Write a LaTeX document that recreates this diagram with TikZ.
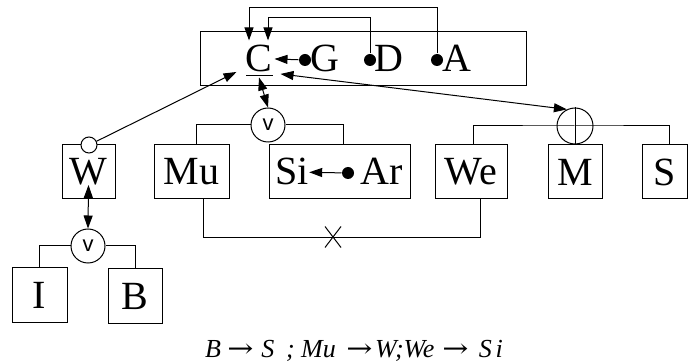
\documentclass[tikz,border=0pt]{standalone}
\usepackage{fontspec}
\setmainfont{Liberation Serif}
\newfontfamily\gatefont{Liberation Sans}
\newfontfamily\arrowfont{DejaVu Serif}
\newcommand{\arr}{\scalebox{1.2}[1]{\upshape\arrowfont →}}
\usepackage{tikz}
\usetikzlibrary{arrows.meta}
\usetikzlibrary{shapes.misc}

\begin{document}
\begin{tikzpicture}[
    x=1pt, y=-1pt,
    >={Triangle[length=13pt,width=9pt]},
    line width=1pt,
    box/.style={draw, inner sep=0pt, minimum height=54pt, font=\fontsize{40}{40}\selectfont},
    letter/.style={inner sep=0pt, font=\fontsize{40}{40}\selectfont},
    gate/.style={circle, draw, fill=white, inner sep=0pt, minimum size=34pt,
        font=\gatefont\fontsize{22}{22}\selectfont},
    dot/.style={circle, fill, inner sep=0pt, minimum size=12pt}
]
\useasboundingbox (0,0) rectangle (688,363);

% Top frame with C, G, D, A
\node[draw, minimum width=326pt, minimum height=54pt] (top) at (363,59) {};
\node[letter, anchor=base, minimum width=30pt, minimum height=36pt] (C) at (259,72) {C};
\node[letter, anchor=base] (G) at (325,72) {G};
\node[letter, anchor=base] (D) at (388.5,72) {D};
\node[letter, anchor=base] (A) at (457,72) {A};
\node[dot] (dG) at (305,60) {};
\node[dot] (dD) at (370,60) {};
\node[dot] (dA) at (437,60) {};

% Underline of C
\draw ([xshift=-13pt,yshift=1.5pt]C.south) -- ([xshift=14pt,yshift=1.5pt]C.south);

% Links into C
\draw[->] (dG) -- (C.east);
\draw[->] (dD) -- ++(0,-42) -| ([xshift=9pt]C.north);
\draw[->] (dA) -- ++(0,-52) -| ([xshift=-10pt]C.north);

% Boxes of the middle row
\node[box, minimum width=53pt] (W) at (88.5,172) {W};
\node[box, minimum width=75pt] (Mu) at (191.5,172) {Mu};
\node[box, minimum width=141pt] (siar) at (339.5,172) {};
\node[letter, anchor=base] (Si) at (292,185) {Si};
\node[letter, anchor=base] (Ar) at (382,185) {Ar};
\node[dot] (dAr) at (348,173) {};
\node[box, minimum width=72pt] (We) at (471,172) {We};
\node[box, minimum width=54pt] (M) at (575,172) {M};
\node[box, minimum width=45pt] (S) at (664.5,172) {S};

% Bottom row
\node[box, minimum width=55pt, minimum height=55pt] (I) at (39.5,295.5) {I};
\node[box, minimum width=54pt, minimum height=55pt] (B) at (135,296) {B};

\draw[->] (dAr) -- (Si);

% Gates
\node[circle, draw, fill=white, inner sep=0pt, minimum size=16pt] (Wo) at (89,145) {};
\node[gate] (V1) at (268,125) {v};
\node[gate] (V2) at (88,246) {v};
\node[circle, draw, inner sep=0pt, minimum size=36pt] (op) at (575,126) {};

% Tree lines
\draw ([xshift=4.5pt]Mu.north) |- (V1.west);
\draw ([xshift=3.5pt]siar.north) |- (V1.east);
\draw (I.north) |- (V2.west);
\draw (B.north) |- (V2.east);
\draw ([xshift=2pt]We.north) |- (op.center) -| ([xshift=4.5pt]S.north);
\draw (op.north) -- (M.north);

% Arrows between levels
\draw[->] (Wo) -- ([xshift=-7pt,yshift=5.5pt]C.south west);
\draw[<->] (C.south) -- (V1.north);
\draw[<->] ([xshift=6pt,yshift=3.5pt]C.south east) -- (op.116);
\draw[<->] ([yshift=-13pt]W.center) -- (V2.north);

% Excluded pair
\draw ([xshift=11.5pt]Mu.south) -- ++(0,38) -| ([xshift=9pt]We.south);
\node[draw, cross out, inner sep=0pt, minimum width=15pt, minimum height=20pt] (nx) at (333,237) {};

% Rules
\node[anchor=base, inner sep=0pt, font=\itshape\fontsize{26}{26}\selectfont] (rules) at (354,357)
    {B\hspace{.25em}\arr\hspace{.3em}S\hspace{.45em};\hspace{.25em}Mu\hspace{.4em}\arr\hspace{.1em}W;We\hspace{.3em}\arr\hspace{.4em}S\hspace{.15em}i};
\end{tikzpicture}
\end{document}
